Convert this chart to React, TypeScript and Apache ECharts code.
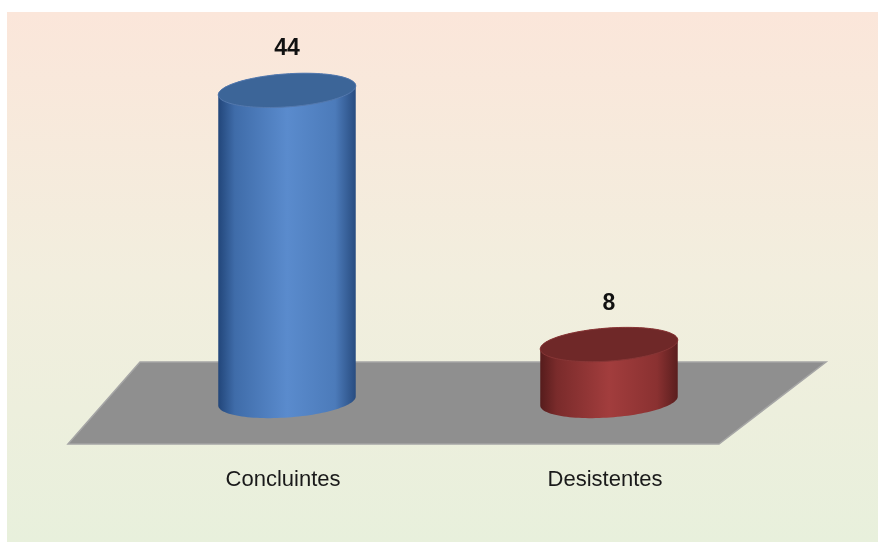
import React, { useEffect, useRef } from "react";
import * as echarts from "echarts";

const categories = ["Concluintes", "Desistentes"];
const values = [44, 8];
const yMin = 0;
const yMax = 50;

const sideStops = [
  ["#22467A", "#3F6CA9", "#5A8BCD", "#4C7BBA", "#284C80"],
  ["#561C1C", "#7A2B2B", "#A23D3D", "#8A3131", "#5A1E1E"],
];
const topFill = ["#3C6598", "#6F2828"];
const topRim = ["#5479AE", "#883636"];

export default function App() {
  const ref = useRef<HTMLDivElement>(null);
  useEffect(() => {
    if (!ref.current) return;
    const chart = echarts.init(ref.current, null, { renderer: "svg" });
    const th = (-4 * Math.PI) / 180;
    const pt = (cx: number, cy: number, a: number, b: number, t: number) => [
      cx + a * Math.cos(t) * Math.cos(th) - b * Math.sin(t) * Math.sin(th),
      cy + a * Math.cos(t) * Math.sin(th) + b * Math.sin(t) * Math.cos(th),
    ];
    const renderItem = (params: any, api: any) => {
      const idx = api.value(0);
      const val = api.value(1);
      const top = api.coord([idx, val]);
      const base = api.coord([idx, 0]);
      const a = api.size([1, 0])[0] * 0.214;
      const b = 16.5;
      const N = 60;
      const body: number[][] = [];
      for (let i = 0; i <= N; i++) body.push(pt(base[0], base[1], a, b, (Math.PI * i) / N));
      for (let i = 0; i <= N; i++) body.push(pt(top[0], top[1], a, b, Math.PI + (Math.PI * i) / N));
      const cap: number[][] = [];
      for (let i = 0; i < 2 * N; i++) cap.push(pt(top[0], top[1], a, b, (Math.PI * i) / N));
      const s = sideStops[params.dataIndex];
      return {
        type: "group",
        children: [
          {
            type: "polygon",
            shape: { points: body },
            style: {
              fill: new echarts.graphic.LinearGradient(0, 0, 1, 0, [
                { offset: 0, color: s[0] },
                { offset: 0.12, color: s[1] },
                { offset: 0.5, color: s[2] },
                { offset: 0.85, color: s[3] },
                { offset: 1, color: s[4] },
              ]),
            },
          },
          {
            type: "polygon",
            shape: { points: cap },
            style: { fill: topFill[params.dataIndex], stroke: topRim[params.dataIndex], lineWidth: 1 },
          },
          {
            type: "text",
            style: {
              text: String(val),
              x: top[0],
              y: top[1] - 43,
              align: "center",
              verticalAlign: "middle",
              fontSize: 23,
              fontWeight: "bold",
              fontFamily: '"Liberation Sans", Arial, sans-serif',
              fill: "#111",
            },
          },
        ],
      };
    };
    chart.setOption({
      animation: false,
      graphic: [
        {
          type: "rect",
          z: -10,
          shape: { x: 7, y: 12, width: 871, height: 530 },
          style: {
            fill: new echarts.graphic.LinearGradient(0, 0, 0, 1, [
              { offset: 0, color: "#FBE6DA" },
              { offset: 0.5, color: "#F2EEDE" },
              { offset: 1, color: "#E8F0DC" },
            ]),
          },
        },
        {
          type: "polygon",
          z: -5,
          shape: {
            points: [
              [140, 362],
              [826, 362],
              [719, 444],
              [68, 444],
            ],
          },
          style: { fill: "#8F8F8F", stroke: "#A5A5A5", lineWidth: 1.5 },
        },
      ],
      grid: { left: 126, right: 108, top: 48, bottom: 150 },
      xAxis: {
        type: "category",
        data: categories,
        axisLine: { show: false },
        axisTick: { show: false },
        axisLabel: {
          margin: 66,
          fontSize: 22,
          color: "#1a1a1a",
          padding: [0, 8, 0, 0],
          fontFamily: '"Liberation Sans", Arial, sans-serif',
        },
      },
      yAxis: {
        type: "value",
        min: yMin,
        max: yMax,
        show: false,
        splitLine: { show: false },
      },
      series: [
        {
          type: "custom",
          renderItem,
          data: values.map((v, i) => [i, v]),
          encode: { x: 0, y: 1 },
          clip: false,
        },
      ],
    });
    return () => chart.dispose();
  }, []);
  return <div ref={ref} style={{ position: "fixed", left: 0, top: 0, width: 878, height: 551 }} />;
}
